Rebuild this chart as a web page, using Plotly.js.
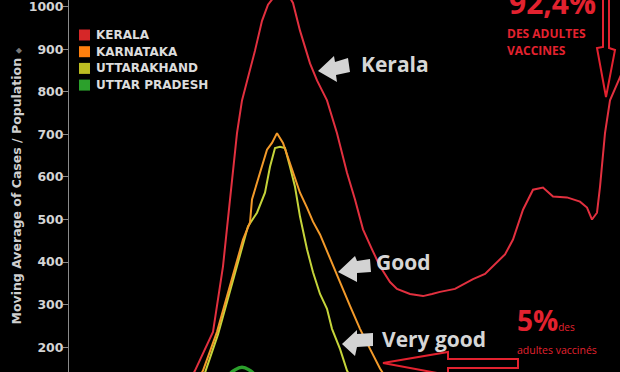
<!DOCTYPE html>
<html><head><meta charset="utf-8">
<script src="https://cdn.plot.ly/plotly-3.0.1.min.js"></script>
<style>html,body{margin:0;padding:0;background:#000;overflow:hidden}#chart{width:620px;height:372px}</style>
</head><body><div id="chart"></div>
<script>
// ---- data (day index, moving average of cases per million) ----
const seriesNames = ['KERALA', 'KARNATAKA', 'UTTARAKHAND', 'UTTAR PRADESH'];

const keralaDays = [116,126,144,154,161,168,173,186,193,199,206,213,221,224,231,241,248,258,268,278,286,294,303,311,321,328,341,354,363,371,386,404,416,424,436,444,454,464,474,484,498,511,518,523,528,531,536,541,548,553];
const keralaValues = [100,145,236,390,547,703,780,897,967,1005,1026,1033,1021,1009,944,867,827,780,703,610,547,477,430,390,353,337,325,320,325,330,337,360,372,390,418,453,523,570,575,554,552,542,528,500,516,577,703,780,820,845];

const karnatakaDays = [126,134,148,161,174,181,183,191,198,203,208,214,223,231,238,244,251,264,271,281,291,301,311,319];
const karnatakaValues = [110,145,236,344,453,493,547,610,664,680,703,680,617,563,528,495,465,390,353,297,243,196,150,120];

const uttarakhandDays = [128,136,149,162,175,179,188,196,201,206,211,216,221,226,231,238,244,251,258,263,271,278,286];
const uttarakhandValues = [110,140,230,338,448,484,516,563,624,668,671,668,624,577,507,430,376,325,290,243,196,145,110];

const uttarPradeshDays = [131,146,156,165,173,181,190,201,216];
const uttarPradeshValues = [60,100,125,145,153,145,125,100,70];

const yTickValues = [200,300,400,500,600,700,800,900,1000];
const yTickLabels = ['200','300','400','500','600','700','800','900','1000'];

// ---- styles ----
const lineColors = ['#e2303f', '#f39a2a', '#c5d43a', '#2ca02c'];
const swatchColors = ['#d62728', '#ff7f0e', '#bcbd22', '#2ca02c'];
const lineWidths = [2, 2, 2, 3.5];
const lineShapes = ['linear', 'linear', 'linear', 'spline'];
const redText = '#e3222f';
const grayText = '#d6d6d6';

// pixel -> paper helpers (plot area: x 69..620, y 0..372)
const L = 69, W = 551, H = 372;
const X = px => (px - L) / W;
const Y = py => (H - py) / H;
const path = pts => 'M' + pts.map(p => X(p[0]).toFixed(5) + ',' + Y(p[1]).toFixed(5)).join(' L') + ' Z';

const xs = [keralaDays, karnatakaDays, uttarakhandDays, uttarPradeshDays];
const ys = [keralaValues, karnatakaValues, uttarakhandValues, uttarPradeshValues];
const order = [3, 2, 1, 0];
const traces = order.map(i => ({
  type: 'scatter', mode: 'lines', name: seriesNames[i],
  x: xs[i], y: ys[i], showlegend: false, hoverinfo: 'skip',
  line: {color: lineColors[i], width: lineWidths[i], shape: lineShapes[i], smoothing: 1.3}
}));

const shapes = [];
const annotations = [];

// manual legend
seriesNames.forEach((n, i) => {
  const cy = 35 + i * 16.7;
  shapes.push({type: 'rect', xref: 'paper', yref: 'paper', x0: X(79), x1: X(90), y0: Y(cy + 5.5), y1: Y(cy - 5.5),
    fillcolor: swatchColors[i], line: {width: 0}});
  annotations.push({xref: 'paper', yref: 'paper', x: X(94), y: Y(cy), xanchor: 'left', yanchor: 'middle',
    text: n, showarrow: false, font: {family: 'DejaVu Sans', size: 12, weight: 'bold', color: '#dcdcdc'}});
});

// gray block arrows
const grayArrows = [
  [[318,71],[334,56],[335,62],[348,58],[350,72],[336,75],[337,82]],
  [[338,272],[355,256],[357,261],[370,259],[371,272],[357,273],[357,282]],
  [[342,344],[357,330],[357,334],[373,333],[373,346],[357,347],[355,356]]
];
grayArrows.forEach(a => shapes.push({type: 'path', xref: 'paper', yref: 'paper', path: path(a),
  fillcolor: '#d3d3d3', line: {width: 0}}));

// red hollow arrows
shapes.push({type: 'path', xref: 'paper', yref: 'paper',
  path: path([[383,363],[448,352],[448,359],[518,359],[518,368],[448,368],[448,375]]),
  fillcolor: 'rgba(0,0,0,0)', line: {color: redText, width: 2}});
shapes.push({type: 'path', xref: 'paper', yref: 'paper',
  path: path([[603,-5],[609,-5],[609,48],[615,50],[606,97],[597,48],[603,47]]),
  fillcolor: 'rgba(0,0,0,0)', line: {color: redText, width: 2}});

const boldFont = (size, color) => ({family: 'Open Sans', size: size, weight: 'bold', color: color});
const ann = (px, py, text, font) => ({xref: 'paper', yref: 'paper', x: X(px), y: Y(py), xanchor: 'left', yanchor: 'middle',
  text: text, showarrow: false, font: font, borderpad: 0});

annotations.push(ann(360, 64, 'Kerala', boldFont(21, grayText)));
annotations.push(ann(375, 262, 'Good', boldFont(21, grayText)));
annotations.push(ann(381, 339, 'Very good', boldFont(21, grayText)));
annotations.push(ann(508, 2, '92,4%', boldFont(30, redText)));
annotations.push(ann(506, 33, 'DES ADULTES', boldFont(12, redText)));
annotations.push(ann(506, 50, 'VACCINES', boldFont(12, redText)));
annotations.push(ann(516, 320, '5%<span style="font-size:10px;font-weight:normal">des</span>', boldFont(28, redText)));
annotations.push(ann(516, 350, 'adultes vaccinés', {family: 'Open Sans', size: 10.5, color: redText}));

const layout = {
  width: 620, height: 372,
  margin: {l: 69, r: 0, t: 0, b: 0, pad: 0},
  paper_bgcolor: '#000', plot_bgcolor: '#000',
  showlegend: false,
  xaxis: {range: [0, 551], visible: false, fixedrange: true},
  yaxis: {
    range: [141.6, 1016], tickmode: 'array', tickvals: yTickValues, ticktext: yTickLabels,
    ticks: 'outside', ticklen: 5, tickwidth: 1, tickcolor: '#8a8a8a', ticklabeloverflow: 'allow',
    ticklabelstandoff: -3,
    showline: true, linecolor: '#8a8a8a', linewidth: 1, showgrid: false, zeroline: false,
    tickfont: {family: 'DejaVu Sans', size: 12.5, weight: 'bold', color: '#d4d4d4'},
    title: {text: 'Moving Average of Cases / Population <span style="font-size:8px;color:#777">◆</span>', standoff: 4,
      font: {family: 'DejaVu Sans', size: 12.5, weight: 'bold', color: '#cfcfcf'}},
    fixedrange: true
  },
  shapes: shapes,
  annotations: annotations
};

Plotly.newPlot('chart', traces, layout, {displayModeBar: false, staticPlot: true});
</script>
</body></html>
